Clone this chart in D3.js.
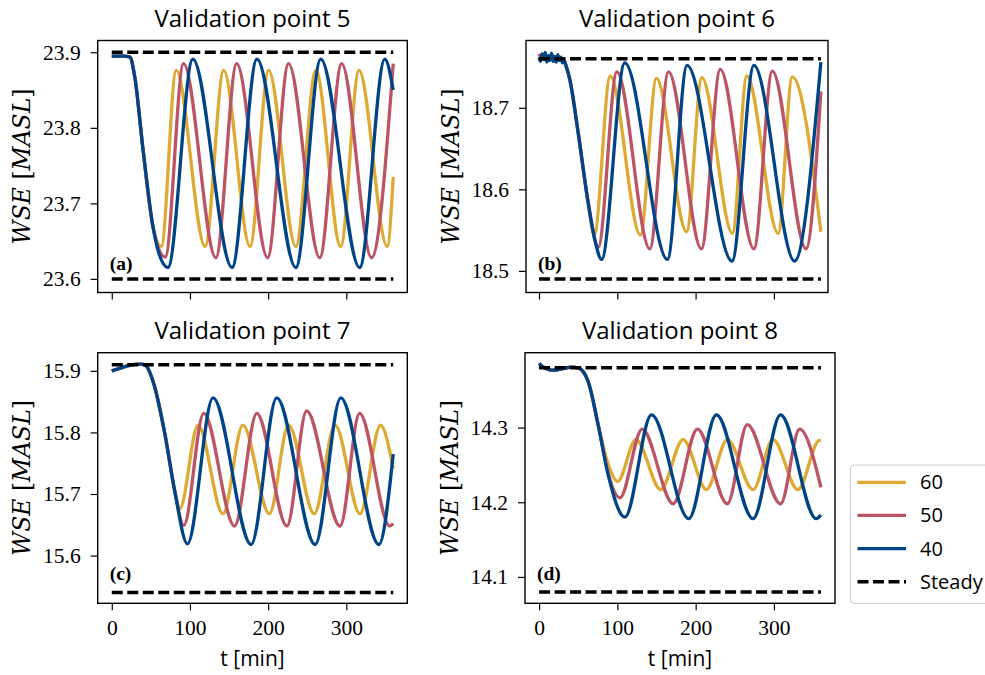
<!DOCTYPE html>
<html>
<head>
<meta charset="utf-8">
<script src="https://cdn.jsdelivr.net/npm/d3@7"></script>
<style>
  body { margin: 0; background: #fff; }
  svg { display: block; }
  .axis text { font-family: "Liberation Serif", serif; font-size: 21.5px; fill: #000; }
  .axis line { stroke: #000; stroke-width: 1.2px; }
  .axis path { display: none; }
  .title { font-family: "Open Sans", sans-serif; font-size: 24px; }
  .xlabel { font-family: "Open Sans", sans-serif; font-size: 21px; }
  .ylabel { font-family: "DejaVu Serif", serif; font-size: 23.5px; }
  .letter { font-family: "Liberation Serif", serif; font-size: 19.5px; font-weight: bold; }
  .legend text { font-family: "Open Sans", sans-serif; font-size: 20px; }
</style>
</head>
<body>
<div id="chart"></div>
<script>
// ---------------- data ----------------
var seriesNames = ['60', '50', '40'];
var titles = ['Validation point 5', 'Validation point 6', 'Validation point 7', 'Validation point 8'];
var letters = ['(a)', '(b)', '(c)', '(d)'];
var xTicks = [0, 100, 200, 300];
var yTicks5 = [23.6, 23.7, 23.8, 23.9];
var yTicks6 = [18.5, 18.6, 18.7];
var yTicks7 = [15.6, 15.7, 15.8, 15.9];
var yTicks8 = [14.1, 14.2, 14.3];

// steady state levels [low, high]
var steady5 = [23.6, 23.9];
var steady6 = [18.49, 18.76];
var steady7 = [15.54, 15.91];
var steady8 = [14.08, 14.38];
var steadySpan = [0, 360];

// [t (min), WSE (MASL)]
var vp5_60 = [[0,23.895],[15,23.895],[23,23.894],[29.3,23.868],[40,23.771],[52.7,23.669],[63.3,23.643],[82.4,23.876],[119.4,23.643],[143.2,23.876],[176.8,23.643],[200.6,23.876],[235.4,23.643],[261,23.876],[292.8,23.643],[316.2,23.876],[352.3,23.643],[360,23.735]];
var vp5_50 = [[0,23.895],[15,23.895],[23,23.894],[29.3,23.868],[40,23.771],[52.7,23.669],[68.4,23.629],[91.8,23.885],[133.1,23.628],[159.8,23.885],[199.3,23.628],[226.1,23.885],[266,23.628],[294.1,23.885],[332.3,23.628],[360,23.885]];
var vp5_40 = [[0,23.895],[15,23.895],[23,23.894],[29.3,23.868],[40,23.771],[52.7,23.669],[59.1,23.638],[71.8,23.615],[103.7,23.891],[153.8,23.615],[185.7,23.891],[235.4,23.615],[267.3,23.891],[317,23.615],[349.3,23.891],[360,23.85]];

var vp6_60 = [[0,18.762],[8,18.762],[16,18.76],[24,18.761],[32,18.757],[35,18.75],[39.5,18.734],[50.1,18.669],[62.9,18.583],[70.5,18.544],[91,18.739],[129.5,18.544],[150,18.736],[188.5,18.548],[208,18.737],[247,18.546],[265.5,18.739],[305.5,18.546],[323.5,18.738],[360,18.548]];
var vp6_50 = [[0,18.766],[4,18.76],[8,18.764],[12,18.758],[16,18.763],[20,18.757],[24,18.762],[28,18.758],[32,18.757],[35,18.75],[39.5,18.734],[50.1,18.669],[62.9,18.583],[75.6,18.529],[99.5,18.744],[141.5,18.527],[165.5,18.744],[207.5,18.527],[231.5,18.747],[274.5,18.527],[298,18.745],[341,18.527],[360,18.72]];
var vp6_40 = [[0,18.762],[2,18.757],[4,18.766],[6,18.759],[8,18.768],[10,18.756],[12,18.764],[14,18.758],[16,18.767],[18,18.757],[20,18.763],[22,18.756],[24,18.765],[26,18.758],[28,18.762],[30,18.755],[32,18.758],[35,18.75],[39.5,18.734],[50.1,18.669],[62.9,18.583],[71.4,18.538],[79.9,18.514],[109.6,18.755],[164,18.514],[189.1,18.752],[246.5,18.512],[274.5,18.752],[326.4,18.512],[360,18.756]];

var vp7_60 = [[0,15.9],[10,15.904],[19,15.9076],[30,15.9105],[38,15.911],[44,15.908],[54,15.878],[68,15.797],[80.5,15.705],[87,15.676],[110.4,15.812],[142.2,15.668],[167.7,15.812],[201.6,15.668],[226.2,15.812],[258.9,15.668],[285.7,15.812],[317.5,15.668],[343.8,15.812],[360,15.741]];
var vp7_50 = [[0,15.9],[10,15.904],[19,15.9076],[30,15.9105],[38,15.911],[44,15.908],[54,15.878],[68,15.797],[80.5,15.705],[92.1,15.649],[117.6,15.831],[157,15.648],[185.5,15.831],[224.1,15.648],[249.2,15.835],[292,15.648],[317,15.831],[355.5,15.648],[360,15.652]];
var vp7_40 = [[0,15.9],[10,15.904],[19,15.9076],[30,15.9105],[38,15.911],[44,15.908],[54,15.878],[68,15.797],[80.5,15.705],[96.8,15.619],[129.5,15.856],[178.3,15.618],[211,15.856],[260.2,15.618],[292.9,15.856],[341.7,15.618],[360,15.765]];

var vp8_60 = [[0,14.386],[4,14.382],[9,14.379],[15,14.377],[20.4,14.377],[30,14.379],[41.6,14.381],[50.1,14.38],[62.9,14.361],[75.6,14.303],[88,14.252],[100.3,14.228],[123.7,14.284],[155.5,14.217],[184,14.284],[213.8,14.217],[240.5,14.284],[273.3,14.217],[298.8,14.284],[330.6,14.217],[358.3,14.283],[360,14.283]];
var vp8_50 = [[0,14.386],[4,14.382],[9,14.379],[15,14.377],[20.4,14.377],[30,14.379],[41.6,14.381],[50.1,14.38],[62.9,14.361],[75.6,14.303],[88.4,14.238],[103.3,14.206],[131.7,14.298],[171.3,14.198],[202.3,14.298],[240.5,14.198],[266,14.304],[308.5,14.198],[332.8,14.298],[360,14.22]];
var vp8_40 = [[0,14.386],[4,14.382],[9,14.379],[15,14.377],[20.4,14.377],[30,14.379],[41.6,14.381],[50.1,14.38],[62.9,14.361],[75.6,14.303],[88.4,14.236],[109.6,14.18],[143.6,14.317],[191.2,14.178],[226.5,14.317],[273.3,14.178],[308.5,14.317],[354,14.178],[360,14.183]];

// ---------------- layout ----------------
var colors = {'60': '#DDAA33', '50': '#BB5566', '40': '#004488'};

var panels = [
  {title: titles[0], letter: letters[0], series: [vp5_60, vp5_50, vp5_40], steady: steady5, yTicks: yTicks5,
   left: 97.7, right: 407.3, top: 40.5, bottom: 292.5, xDom: [-18, 378], yDom: [23.582, 23.9156], xLabels: false},
  {title: titles[1], letter: letters[1], series: [vp6_60, vp6_50, vp6_40], steady: steady6, yTicks: yTicks6,
   left: 526, right: 828, top: 40.5, bottom: 292.5, xDom: [-16.6, 369.1], yDom: [18.4735, 18.7825], xLabels: false},
  {title: titles[2], letter: letters[2], series: [vp7_60, vp7_50, vp7_40], steady: steady7, yTicks: yTicks7,
   left: 97.7, right: 407.3, top: 352.7, bottom: 603.3, xDom: [-18, 378], yDom: [15.5225, 15.9295], xLabels: true},
  {title: titles[3], letter: letters[3], series: [vp8_60, vp8_50, vp8_40], steady: steady8, yTicks: yTicks8,
   left: 525, right: 835, top: 352.7, bottom: 603.3, xDom: [-18, 378], yDom: [14.0647, 14.4003], xLabels: true}
];

var svg = d3.select('#chart')
  .append('svg')
  .attr('width', 985)
  .attr('height', 675);

panels.forEach(function(p) {
  var x = d3.scaleLinear().domain(p.xDom).range([p.left, p.right]);
  var y = d3.scaleLinear().domain(p.yDom).range([p.bottom, p.top]);

  var line = d3.line()
    .x(function(d) { return x(d[0]); })
    .y(function(d) { return y(d[1]); })
    .curve(d3.curveMonotoneX);

  var g = svg.append('g');

  // series: 60, 50, 40 (40 on top)
  p.series.forEach(function(s, i) {
    g.append('path')
      .datum(s)
      .attr('fill', 'none')
      .attr('stroke', colors[seriesNames[i]])
      .attr('stroke-width', 3.3)
      .attr('stroke-linejoin', 'round')
      .attr('d', line);
  });

  // steady levels
  p.steady.forEach(function(v) {
    g.append('line')
      .attr('x1', x(steadySpan[0])).attr('x2', x(steadySpan[1]))
      .attr('y1', y(v)).attr('y2', y(v))
      .attr('stroke', '#000')
      .attr('stroke-width', 3.5)
      .attr('stroke-dasharray', '11,4.5');
  });

  // frame
  g.append('rect')
    .attr('x', p.left).attr('y', p.top)
    .attr('width', p.right - p.left).attr('height', p.bottom - p.top)
    .attr('fill', 'none')
    .attr('stroke', '#000')
    .attr('stroke-width', 1.4);

  // axes
  var xAxis = d3.axisBottom(x).tickValues(xTicks).tickSize(7).tickPadding(9.5);
  if (!p.xLabels) xAxis.tickFormat('');
  g.append('g')
    .attr('class', 'axis')
    .attr('transform', 'translate(0,' + p.bottom + ')')
    .call(xAxis);

  g.append('g')
    .attr('class', 'axis')
    .attr('transform', 'translate(' + p.left + ',0)')
    .call(d3.axisLeft(y).tickValues(p.yTicks).tickSize(7).tickPadding(10).tickFormat(d3.format('.1f')));

  // labels
  var cx = (p.left + p.right) / 2;
  g.append('text')
    .attr('class', 'title')
    .attr('x', cx).attr('y', p.top - 13.5)
    .attr('text-anchor', 'middle')
    .text(p.title);

  g.append('text')
    .attr('class', 'letter')
    .attr('x', p.left + 12).attr('y', p.bottom - 23)
    .text(p.letter);

  var yl = g.append('text')
    .attr('class', 'ylabel')
    .attr('transform', 'translate(' + (p.left - 67.5) + ',' + ((p.top + p.bottom) / 2) + ') rotate(-90)')
    .attr('text-anchor', 'middle');
  yl.append('tspan').attr('font-style', 'italic').text('WSE');
  yl.append('tspan').text(' [');
  yl.append('tspan').attr('font-style', 'italic').text('MASL');
  yl.append('tspan').text(']');

  if (p.xLabels) {
    g.append('text')
      .attr('class', 'xlabel')
      .attr('x', cx).attr('y', p.bottom + 62.7)
      .attr('text-anchor', 'middle')
      .text('t [min]');
  }
});

// ---------------- legend ----------------
var legendItems = seriesNames.concat(['Steady']);
var lg = svg.append('g').attr('class', 'legend');

lg.append('rect')
  .attr('x', 850.5).attr('y', 465)
  .attr('width', 150).attr('height', 138.5)
  .attr('rx', 4)
  .attr('fill', '#fff')
  .attr('fill-opacity', 0.8)
  .attr('stroke', '#cccccc')
  .attr('stroke-width', 1);

var rowY = d3.scalePoint().domain(legendItems).range([482.3, 581.7]);

legendItems.forEach(function(name) {
  var ly = rowY(name);
  var steady = name === 'Steady';
  lg.append('line')
    .attr('x1', 857.5).attr('x2', 906)
    .attr('y1', ly).attr('y2', ly)
    .attr('stroke', steady ? '#000' : colors[name])
    .attr('stroke-width', steady ? 3.5 : 3.3)
    .attr('stroke-dasharray', steady ? '11,4.5' : null);
  lg.append('text')
    .attr('x', 920).attr('y', ly)
    .attr('dy', '0.35em')
    .text(name);
});
</script>
</body>
</html>
